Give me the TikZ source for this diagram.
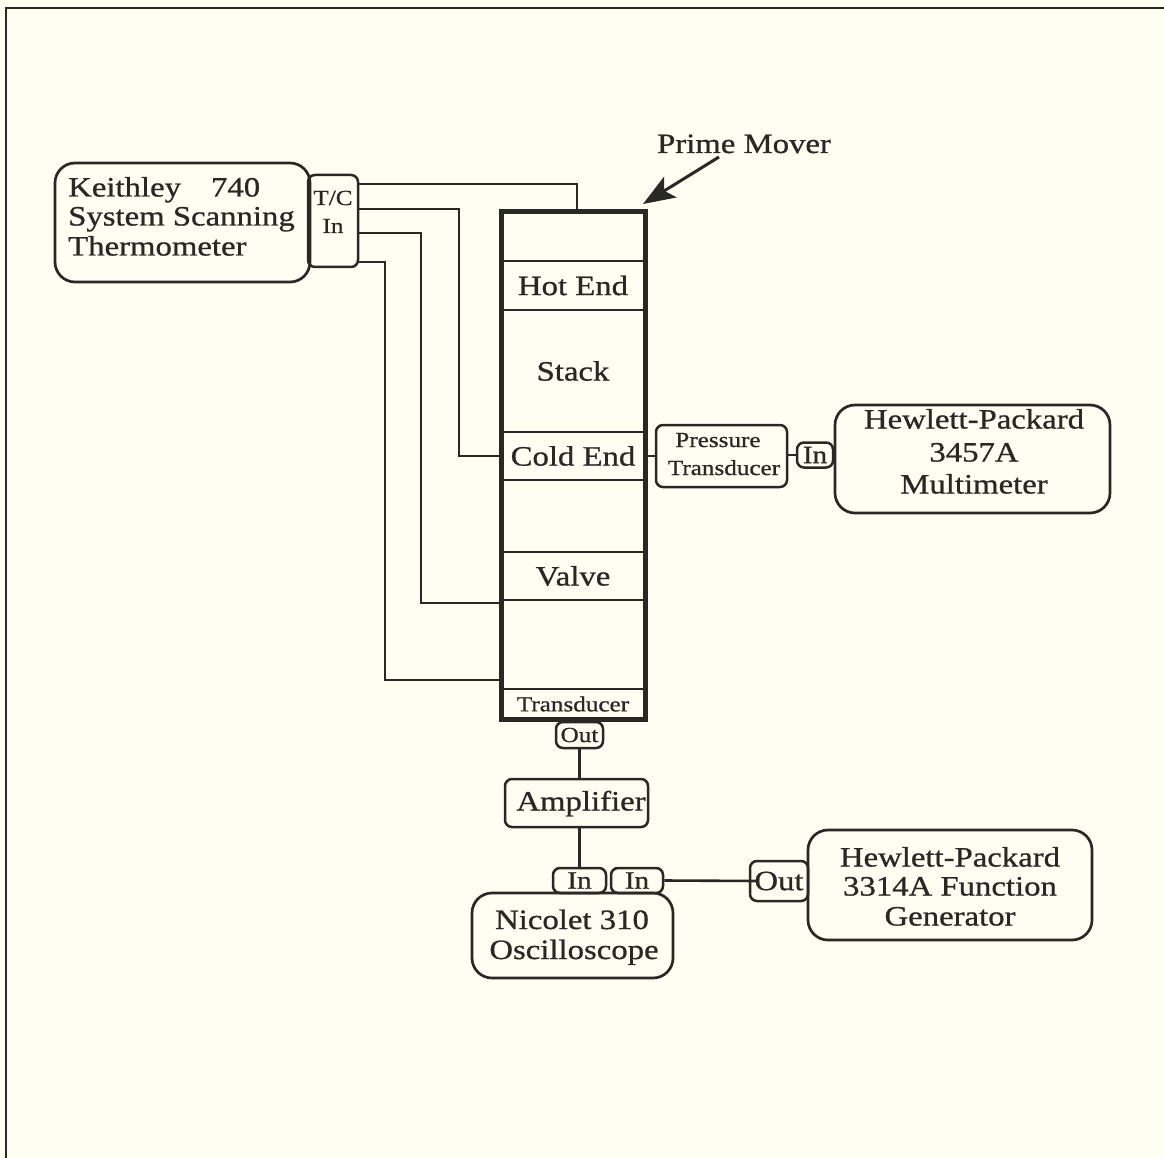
\documentclass[tikz,border=0pt]{standalone}
\usepackage{fontspec}
\setmainfont{Liberation Serif}[FakeStretch=1.17,FakeBold=0.8]
\usetikzlibrary{arrows.meta}
\definecolor{bgc}{RGB}{254,254,243}
\definecolor{ink}{RGB}{40,40,36}
\newcommand\fBig{\fontsize{28}{30}\selectfont}
\newcommand\fSmall{\fontsize{21.5}{28}\selectfont}
\newcommand\fMid{\fontsize{25}{28}\selectfont}
\begin{document}
\begin{tikzpicture}[x=1pt,y=-1pt,
  bigbox/.style={draw=ink, line width=2.7pt, rounded corners=20pt, inner sep=0pt},
  smallbox/.style={draw=ink, line width=2.5pt, rounded corners=7pt, inner sep=0pt, font=\fSmall, text=ink},
  section/.style={draw=ink, line width=2.8pt, minimum width=144pt, inner sep=0pt, font=\fBig, text=ink},
  wire/.style={draw=ink, line width=2.6pt},
  tbig/.style={font=\fBig, text=ink, inner sep=0pt, anchor=base},
  tsmall/.style={font=\fSmall, text=ink, inner sep=0pt, anchor=base}]

\useasboundingbox (0,0) rectangle (1164,1158);
\fill[bgc] (0,0) rectangle (1164,1158);
\draw[ink, line width=2.4pt] (6,1158) -- (6,8) -- (1164,8);

% Keithley thermometer
\node[bigbox, minimum width=255pt, minimum height=119pt] (keith) at (182.5,222.5) {};
\node[tbig, anchor=base west] (keithA) at (68,196.5) {Keithley\hspace{30pt}740};
\node[tbig, anchor=base west] (keithB) at (68,225.5) {System Scanning};
\node[tbig, anchor=base west] (keithC) at (68,255.5) {Thermometer};
\node[smallbox, minimum width=50pt, minimum height=92pt] (tc) at (333,221) {};
\node[tsmall] (tcA) at (333,205) {T/C};
\node[tsmall] (tcB) at (333,233) {In};

% prime mover tube
\node[section, minimum height=49pt] (s0) at (573,236.5) {};
\node[section, minimum height=49pt] (hot) at (573,285.5) {Hot End};
\node[section, minimum height=122pt] (stack) at (573,371) {Stack};
\node[section, minimum height=48pt] (cold) at (573,456) {Cold End};
\node[section, minimum height=72pt] (e1) at (573,516) {};
\node[section, minimum height=48pt] (valve) at (573,576) {Valve};
\node[section, minimum height=89pt] (e2) at (573,644.5) {};
\node[section, minimum height=30pt, font=\fSmall] (trans) at (573,704) {Transducer};
\node[draw=ink, line width=5pt, minimum width=144pt, minimum height=507pt, inner sep=0pt] (tube) at (573,465.5) {};

\node[tbig] (pm) at (744,153) {Prime Mover};
\coordinate (pmtail) at (719,157);
\coordinate (pmtip) at (643,204);
\draw[ink, line width=3pt, -{Stealth[length=32pt,width=24pt,inset=7pt]}] (pmtail) -- (pmtip);

% thermocouple wires
\coordinate (w1) at (577,184);
\coordinate (w2) at (459,209);
\coordinate (w3) at (421,233);
\coordinate (w3e) at (501,603);
\coordinate (w4) at (385,262);
\coordinate (w4e) at (501,680);
\draw[wire] (tc.east |- w1) -- (w1) -- (w1 |- tube.north);
\draw[wire] (tc.east |- w2) -- (w2) |- (cold.west);
\draw[wire] (tc.east |- w3) -- (w3) |- (w3e);
\draw[wire] (tc.east |- w4) -- (w4) |- (w4e);

% pressure transducer and multimeter
\node[smallbox, minimum width=131pt, minimum height=62pt] (pt) at (721.5,456) {};
\node[tsmall] (ptA) at (718,447) {Pressure};
\node[tsmall] (ptB) at (724,475) {Transducer};
\node[smallbox, minimum width=36pt, minimum height=25pt, font=\fMid] (inm) at (815,455) {In};
\node[bigbox, minimum width=275pt, minimum height=108pt] (mm) at (972.5,459) {};
\node[tbig] (mmA) at (974,428.5) {Hewlett-Packard};
\node[tbig] (mmB) at (974,461.5) {3457A};
\node[tbig] (mmC) at (974,493.5) {Multimeter};
\draw[wire] (cold.east) -- (pt.west);
\draw[wire] (pt.east |- inm.west) -- (inm.west);

% amplifier chain
\node[smallbox, minimum width=47pt, minimum height=26pt] (out) at (579.5,735) {Out};
\node[smallbox, minimum width=143pt, minimum height=48pt] (amp) at (576.5,803) {};
\node[tbig] (ampT) at (581,810.5) {Amplifier};
\node[smallbox, minimum width=53pt, minimum height=25pt, font=\fMid] (in1) at (579.5,880.5) {In};
\node[smallbox, minimum width=52pt, minimum height=25pt, font=\fMid] (in2) at (637,880.5) {In};
\node[bigbox, minimum width=201pt, minimum height=85pt] (osc) at (572.5,935.5) {};
\node[tbig] (oscA) at (572,929) {Nicolet 310};
\node[tbig] (oscB) at (574,959) {Oscilloscope};
\draw[wire] (out.south) -- (out.south |- amp.north);
\draw[wire] (amp.south -| in1.north) -- (in1.north);

% function generator
\node[smallbox, minimum width=58pt, minimum height=40pt, font=\fBig] (outf) at (779,881) {Out};
\node[bigbox, minimum width=284pt, minimum height=110pt] (fg) at (950,885) {};
\node[tbig] (fgA) at (950,866.5) {Hewlett-Packard};
\node[tbig] (fgB) at (950,895.5) {3314A Function};
\node[tbig] (fgC) at (950,925.5) {Generator};
\draw[wire] (in2.east) -- ([xshift=10pt]outf.west);
\end{tikzpicture}
\end{document}
